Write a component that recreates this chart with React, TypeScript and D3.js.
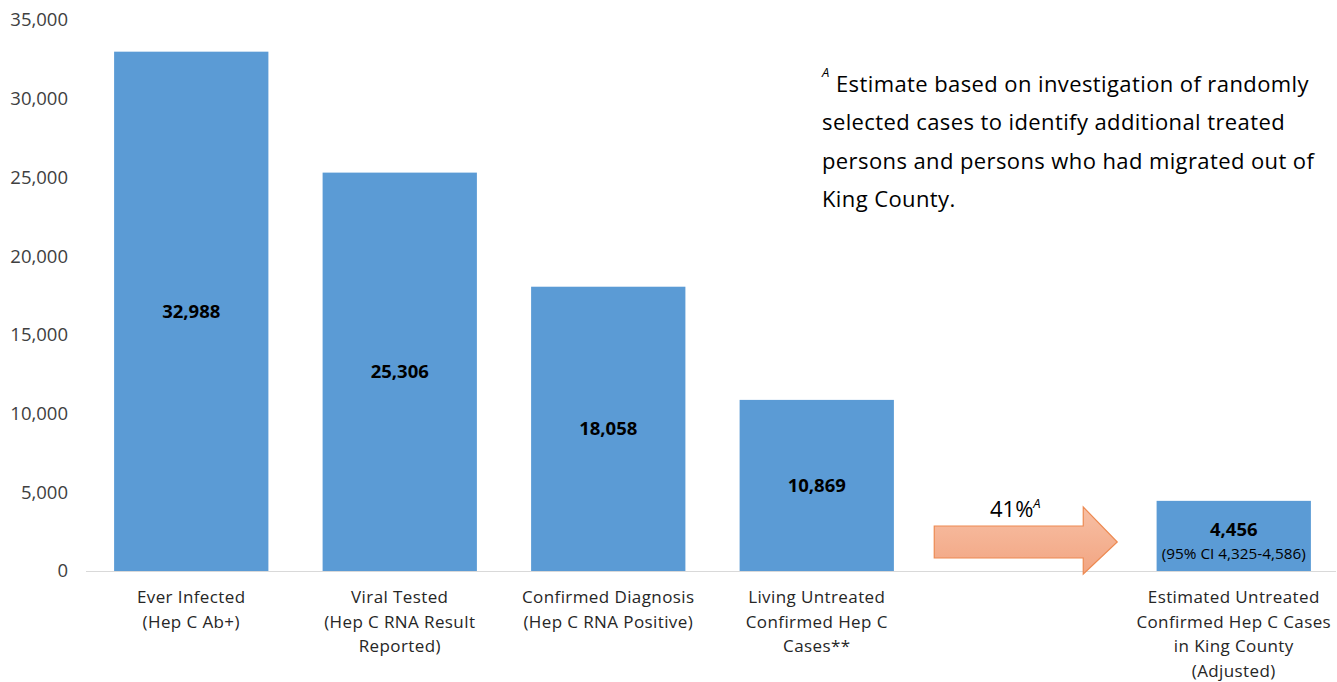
import React from "react";
import * as d3 from "d3";

const categories: string[][] = [
  ["Ever Infected", "(Hep C Ab+)"],
  ["Viral Tested", "(Hep C RNA Result", "Reported)"],
  ["Confirmed Diagnosis", "(Hep C RNA Positive)"],
  ["Living Untreated", "Confirmed Hep C", "Cases**"],
  [],
  ["Estimated Untreated", "Confirmed Hep C Cases", "in King County", "(Adjusted)"],
];
const values: (number | null)[] = [32988, 25306, 18058, 10869, null, 4456];
const valueLabels: string[] = ["32,988", "25,306", "18,058", "10,869", "", "4,456"];
const ciLabel = "(95% CI 4,325-4,586)";
const yTicks: number[] = [0, 5000, 10000, 15000, 20000, 25000, 30000, 35000];
const arrowLabel = "41%";
const noteLines: string[] = [
  "Estimate based on investigation of randomly",
  "selected cases to identify additional treated",
  "persons and persons who had migrated out of",
  "King County.",
];

const W = 1337;
const H = 682;
const FONT = "'Open Sans', Lato, sans-serif";

export default function App() {
  const y = d3.scaleLinear().domain([0, 35000]).range([571, 20]);
  const x = d3
    .scaleBand<number>()
    .domain(d3.range(categories.length))
    .range([87, 1338])
    .paddingInner(0.26)
    .paddingOuter(0.13);
  const bw = x.bandwidth();
  const fmt = d3.format(",");

  // arrow in empty slot
  const slot = 4;
  const cx = (x(slot) as number) + bw / 2;
  const ax0 = cx - 91;
  const ax1 = cx + 92;
  const headX = ax1 - 34;
  const midY = 542;
  const arrowPath = d3.path();
  arrowPath.moveTo(ax0, midY - 16);
  arrowPath.lineTo(headX, midY - 16);
  arrowPath.lineTo(headX, midY - 35);
  arrowPath.lineTo(ax1, midY);
  arrowPath.lineTo(headX, midY + 32);
  arrowPath.lineTo(headX, midY + 16);
  arrowPath.lineTo(ax0, midY + 16);
  arrowPath.closePath();

  return (
    <svg
      width={W}
      height={H}
      style={{ position: "absolute", left: 0, top: 0, background: "#fff" }}
      fontFamily={FONT}
    >
      <defs>
        <linearGradient id="arrGrad" x1="0" y1="0" x2="0" y2="1">
          <stop offset="0" stopColor="#f7bfa4" />
          <stop offset="1" stopColor="#f2a582" />
        </linearGradient>
      </defs>
      {/* y ticks */}
      {yTicks.map((t) => (
        <text
          key={t}
          x={68}
          y={y(t)}
          dy="0.35em"
          textAnchor="end"
          fontSize={18.5}
          fill="#404040"
        >
          {fmt(t)}
        </text>
      ))}
      {/* baseline */}
      <line x1={86} x2={1336} y1={y(0) + 0.5} y2={y(0) + 0.5} stroke="#d9d9d9" strokeWidth={1} />
      {/* bars */}
      {values.map((v, i) =>
        v == null ? null : (
          <g key={i}>
            <rect
              x={x(i)}
              y={y(v)}
              width={bw}
              height={y(0) - y(v)}
              fill="#5b9bd5"
            />
            {i < 5 ? (
              <text
                x={(x(i) as number) + bw / 2}
                y={(y(v) + y(0)) / 2}
                dy="0.35em"
                textAnchor="middle"
                fontWeight="bold"
                fontSize={18.5}
                fill="#000"
              >
                {valueLabels[i]}
              </text>
            ) : (
              <>
                <text
                  x={(x(i) as number) + bw / 2}
                  y={y(v) + 29}
                  dy="0.35em"
                  textAnchor="middle"
                  fontWeight="bold"
                  fontSize={18.5}
                  fill="#000"
                >
                  {valueLabels[i]}
                </text>
                <text
                  x={(x(i) as number) + bw / 2}
                  y={y(v) + 53}
                  dy="0.35em"
                  textAnchor="middle"
                  fontSize={15.3}
                  fill="#000"
                >
                  {ciLabel}
                </text>
              </>
            )}
          </g>
        )
      )}
      {/* category labels */}
      {categories.map((lines, i) => (
        <text
          key={i}
          x={(x(i) as number) + bw / 2}
          textAnchor="middle"
          fontSize={17}
          letterSpacing={0.4}
          fill="#262626"
        >
          {lines.map((l, j) => (
            <tspan key={j} x={(x(i) as number) + bw / 2} y={597 + j * 24.6} dy="0.35em">
              {l}
            </tspan>
          ))}
        </text>
      ))}
      {/* arrow */}
      <path d={arrowPath.toString()} fill="url(#arrGrad)" stroke="#ed8a52" strokeWidth={1.2} />
      <text x={990} y={509} dy="0.35em" fontSize={22} fill="#000">
        {arrowLabel}
        <tspan fontStyle="italic" fontSize={13} dy="-0.7em">A</tspan>
      </text>
      {/* note */}
      <text fontSize={22} letterSpacing={0.4} fill="#000">
        {noteLines.map((l, j) => (
          <tspan key={j} x={j === 0 ? 836 : 822} y={84 + j * 38.5} dy="0.35em">
            {l}
          </tspan>
        ))}
      </text>
      <text x={822} y={77} fontSize={13} fontStyle="italic" fill="#000">
        A
      </text>
    </svg>
  );
}
